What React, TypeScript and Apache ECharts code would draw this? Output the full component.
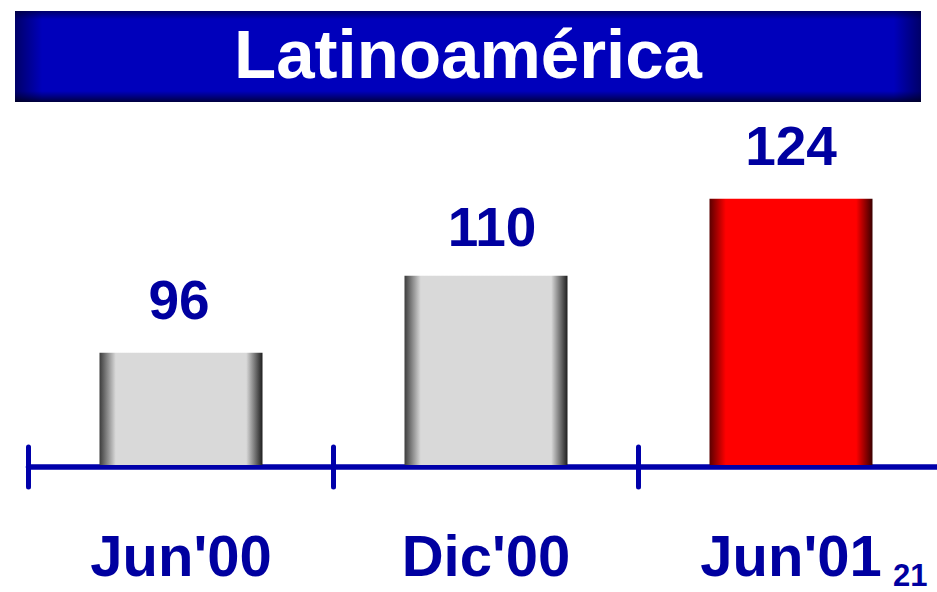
import React, { useEffect, useRef } from "react";
import * as echarts from "echarts";

const titleText = "Latinoamérica";
const categories = ["Jun'00", "Dic'00", "Jun'01"];
const values = [96, 110, 124];
const pageNumber = "21";

const FONT = '"Liberation Sans", Arial, Helvetica, sans-serif';
const BLUE_TEXT = "#0000A0";
const BLUE_AXIS = "#0000AA";

const grayGrad = () =>
  new echarts.graphic.LinearGradient(0, 0, 1, 0, [
    { offset: 0, color: "#3c3c3c" },
    { offset: 0.1, color: "#d9d9d9" },
    { offset: 0.9, color: "#d9d9d9" },
    { offset: 1, color: "#1e1e1e" },
  ]);
const redGrad = () =>
  new echarts.graphic.LinearGradient(0, 0, 1, 0, [
    { offset: 0, color: "#5a0000" },
    { offset: 0.1, color: "#ff0000" },
    { offset: 0.9, color: "#ff0000" },
    { offset: 1, color: "#3a0000" },
  ]);

export default function App() {
  const ref = useRef<HTMLDivElement>(null);
  useEffect(() => {
    if (!ref.current) return;
    const chart = echarts.init(ref.current, undefined, { renderer: "svg" });
    const barData = values.map((v, i) => ({
      value: v,
      itemStyle: { color: i === values.length - 1 ? redGrad() : grayGrad() },
      label: i === 1 ? { offset: [6, 4] } : i === 0 ? { offset: [-2, 0] } : {},
    }));
    chart.setOption({
      animation: false,
      backgroundColor: "#ffffff",
      grid: { left: 28.5, right: 16.5, top: 135, bottom: 127, containLabel: false },
      xAxis: [
        {
          type: "category",
          data: categories,
          position: "bottom",
          offset: 2,
          boundaryGap: true,
          axisLine: {
            show: true,
            lineStyle: { color: BLUE_AXIS, width: 5.5, cap: "round" },
          },
          axisTick: {
            show: true,
            inside: false,
            length: 20,
            lineStyle: { color: BLUE_AXIS, width: 5, cap: "round" },
          },
          axisLabel: {
            show: true,
            margin: 59,
            verticalAlign: "top",
            color: BLUE_TEXT,
            fontSize: 58,
            fontWeight: "bold",
            fontFamily: FONT,
            interval: 0,
          },
          splitLine: { show: false },
        },
        {
          type: "category",
          data: categories,
          position: "bottom",
          offset: 2,
          boundaryGap: true,
          axisLine: { show: false },
          axisTick: {
            show: true,
            inside: true,
            length: 20,
            lineStyle: { color: BLUE_AXIS, width: 5, cap: "round" },
          },
          axisLabel: { show: false },
          splitLine: { show: false },
        },
      ],
      yAxis: {
        type: "value",
        min: 75.6,
        max: 135.6,
        show: false,
        splitLine: { show: false },
      },
      series: [
        {
          type: "bar",
          data: barData,
          barWidth: 163,
          xAxisIndex: 0,
          z: 3,
          label: {
            show: true,
            position: "top",
            distance: 25,
            color: BLUE_TEXT,
            fontSize: 55,
            fontWeight: "bold",
            fontFamily: FONT,
          },
        },
      ],
      graphic: [
        {
          type: "group",
          children: [
            {
              type: "rect",
              shape: { x: 15, y: 11, width: 906, height: 91 },
              style: {
                fill: new echarts.graphic.LinearGradient(0, 0, 1, 0, [
                  { offset: 0, color: "#000068" },
                  { offset: 0.03, color: "#0000BB" },
                  { offset: 0.97, color: "#0000BB" },
                  { offset: 1, color: "#000068" },
                ]),
              },
            },
            {
              type: "rect",
              shape: { x: 15, y: 11, width: 906, height: 91 },
              style: {
                fill: new echarts.graphic.LinearGradient(0, 0, 0, 1, [
                  { offset: 0, color: "rgba(0,0,40,0.55)" },
                  { offset: 0.09, color: "rgba(0,0,40,0)" },
                  { offset: 0.88, color: "rgba(0,0,40,0)" },
                  { offset: 1, color: "rgba(0,0,20,0.75)" },
                ]),
              },
            },
            {
              type: "text",
              x: 468,
              y: 54,
              style: {
                text: titleText,
                fill: "#ffffff",
                font: `bold 69px ${FONT}`,
                align: "center",
                verticalAlign: "middle",
              },
            },
          ],
        },
        {
          type: "text",
          x: 893,
          y: 575,
          style: {
            text: pageNumber,
            fill: BLUE_TEXT,
            font: `bold 31px ${FONT}`,
            align: "left",
            verticalAlign: "middle",
          },
        },
      ],
    });
    return () => chart.dispose();
  }, []);
  return (
    <div
      style={{ position: "fixed", left: 0, top: 0, width: 937, height: 592, overflow: "hidden" }}
    >
      <div ref={ref} style={{ width: 960, height: 592 }} />
    </div>
  );
}
